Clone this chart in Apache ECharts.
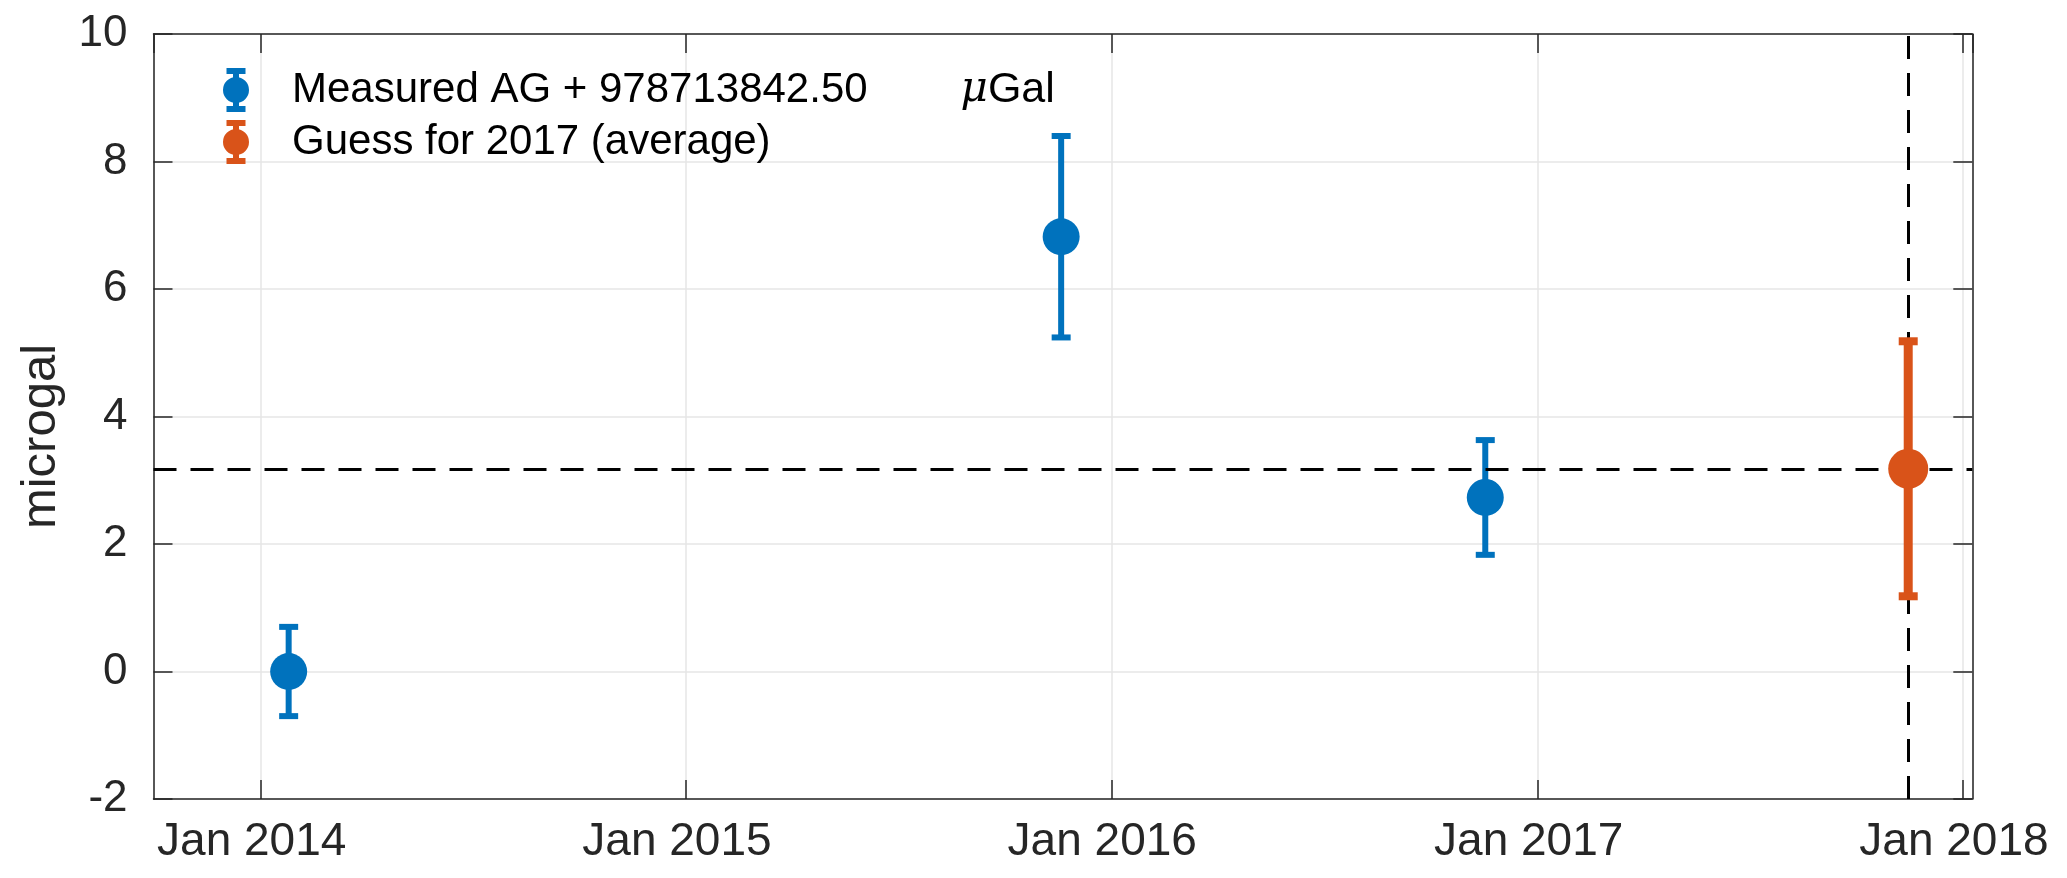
<!DOCTYPE html>
<html>
<head>
<meta charset="utf-8">
<script src="https://cdn.jsdelivr.net/npm/echarts@6/dist/echarts.min.js"></script>
<style>html,body{margin:0;padding:0;background:#fff}#c{width:2067px;height:878px}</style>
</head>
<body>
<div id="c"></div>
<script>
// ---- data ----
const measuredDates = ['2014-01-25', '2015-11-19', '2016-11-17'];
const measuredValues = [0.00, 6.82, 2.73];
const measuredErrors = [0.70, 1.58, 0.90];
const guessDates = ['2017-11-15'];
const guessValues = [3.18];
const guessErrors = [2.00];
const averageLevel = 3.18;
const xMin = '2013-10-01';
const xMax = '2018-01-09';
const yTicks = [-2, 0, 2, 4, 6, 8, 10];
const legendNames = ['Measured AG + 978713842.50', 'Guess for 2017 (average)'];
const unitText = 'Gal';

const FONT = '"Liberation Sans", Arial, Helvetica, sans-serif';
const AX = '#262626';
const BLUE = '#0072BD';
const ORANGE = '#D95319';

function rows(d, v, e) {
  return d.map((t, i) => [t, v[i], v[i] - e[i], v[i] + e[i]]);
}

function errRender(color, barW, capW, capLw, r) {
  return function (params, api) {
    const x = api.value(0);
    const p = api.coord([x, api.value(1)]);
    const pl = api.coord([x, api.value(2)]);
    const ph = api.coord([x, api.value(3)]);
    const h = capW / 2;
    return {
      type: 'group',
      children: [
        { type: 'line', shape: { x1: p[0], y1: ph[1], x2: p[0], y2: pl[1] }, style: { stroke: color, lineWidth: barW } },
        { type: 'line', shape: { x1: p[0] - h, y1: ph[1], x2: p[0] + h, y2: ph[1] }, style: { stroke: color, lineWidth: capLw } },
        { type: 'line', shape: { x1: p[0] - h, y1: pl[1], x2: p[0] + h, y2: pl[1] }, style: { stroke: color, lineWidth: capLw } },
        { type: 'circle', shape: { cx: p[0], cy: p[1], r: r }, style: { fill: color } }
      ]
    };
  };
}

const iconPath = 'path://M3.5 0H22.5V6H3.5Z M3.5 38H22.5V44H3.5Z M10 0H16V44H10Z M0 22A13 13 0 1 1 26 22A13 13 0 1 1 0 22Z';

const chart = echarts.init(document.getElementById('c'), null, { renderer: 'canvas' });

const tickStyle = { show: true, inside: true, length: 19, lineStyle: { color: AX, width: 1.5 } };
const lineStyle = { show: true, onZero: false, lineStyle: { color: AX, width: 1.5 } };

const xCommon = {
  type: 'time',
  min: xMin,
  max: xMax,
  minInterval: 365 * 86400000,
  maxInterval: 366 * 86400000,
  axisLine: lineStyle,
  axisTick: tickStyle,
  minorTick: { show: false }
};

chart.setOption({
  animation: false,
  backgroundColor: '#fff',
  grid: { left: 153.5, right: 94.7, top: 34, bottom: 79, containLabel: false },
  legend: {
    left: 223,
    top: 68,
    orient: 'vertical',
    padding: 0,
    itemWidth: 26,
    itemHeight: 44,
    itemGap: 8,
    selectedMode: false,
    data: [
      { name: legendNames[0], icon: iconPath, itemStyle: { color: BLUE } },
      { name: legendNames[1], icon: iconPath, itemStyle: { color: ORANGE } }
    ],
    formatter: function (name) {
      if (name === legendNames[0]) return '{a|' + name + '}{mu|μ}{b|' + unitText + '}';
      return '{a|' + name + '}';
    },
    textStyle: {
      fontFamily: FONT,
      fontSize: 42,
      color: '#000',
      lineHeight: 44,
      rich: {
        a: { fontFamily: FONT, fontSize: 42, color: '#000', lineHeight: 44, padding: [0, 0, 0, 38] },
        mu: { fontFamily: '"DejaVu Serif", "Liberation Serif", serif', fontStyle: 'italic', fontSize: 42, color: '#000', lineHeight: 44, padding: [0, 0, 0, 93] },
        b: { fontFamily: FONT, fontSize: 43, color: '#000', lineHeight: 44 }
      }
    }
  },
  xAxis: [
    Object.assign({}, xCommon, {
      position: 'bottom',
      axisLabel: {
        show: true,
        formatter: '{MMM} {yyyy}',
        fontFamily: FONT,
        fontSize: 46,
        color: AX,
        margin: 20,
        padding: [0, 18, 0, 0],
        showMinLabel: false,
        showMaxLabel: false
      },
      splitLine: { show: true, lineStyle: { color: '#e6e6e6', width: 1.5 } }
    }),
    Object.assign({}, xCommon, {
      position: 'top',
      axisLabel: { show: false },
      splitLine: { show: false }
    })
  ],
  yAxis: [
    {
      type: 'value',
      min: yTicks[0],
      max: yTicks[yTicks.length - 1],
      interval: yTicks[1] - yTicks[0],
      position: 'left',
      name: 'microgal',
      nameLocation: 'middle',
      nameGap: 88,
      nameTextStyle: { fontFamily: FONT, fontSize: 49, color: AX, padding: [0, 40, 0, 0] },
      axisLine: lineStyle,
      axisTick: tickStyle,
      axisLabel: { fontFamily: FONT, fontSize: 44, color: AX, margin: 26 },
      splitLine: { show: true, lineStyle: { color: '#e6e6e6', width: 1.5 } }
    },
    {
      type: 'value',
      min: yTicks[0],
      max: yTicks[yTicks.length - 1],
      interval: yTicks[1] - yTicks[0],
      position: 'right',
      axisLine: lineStyle,
      axisTick: tickStyle,
      axisLabel: { show: false },
      splitLine: { show: false }
    }
  ],
  series: [
    {
      name: legendNames[0],
      type: 'custom',
      xAxisIndex: 0,
      yAxisIndex: 0,
      z: 3,
      renderItem: errRender(BLUE, 6, 19, 6, 18.5),
      encode: { x: 0, y: [1, 2, 3] },
      data: rows(measuredDates, measuredValues, measuredErrors)
    },
    {
      name: 'refs',
      type: 'line',
      xAxisIndex: 0,
      yAxisIndex: 0,
      z: 4,
      data: [],
      symbol: 'none',
      markLine: {
        silent: true,
        symbol: ['none', 'none'],
        label: { show: false },
        lineStyle: { color: '#000', width: 3, type: [23, 14] },
        data: [
          { yAxis: averageLevel },
          { xAxis: guessDates[0] }
        ]
      }
    },
    {
      name: legendNames[1],
      type: 'custom',
      xAxisIndex: 0,
      yAxisIndex: 0,
      z: 5,
      renderItem: errRender(ORANGE, 9, 19, 8, 20),
      encode: { x: 0, y: [1, 2, 3] },
      data: rows(guessDates, guessValues, guessErrors)
    }
  ]
});
</script>
</body>
</html>
